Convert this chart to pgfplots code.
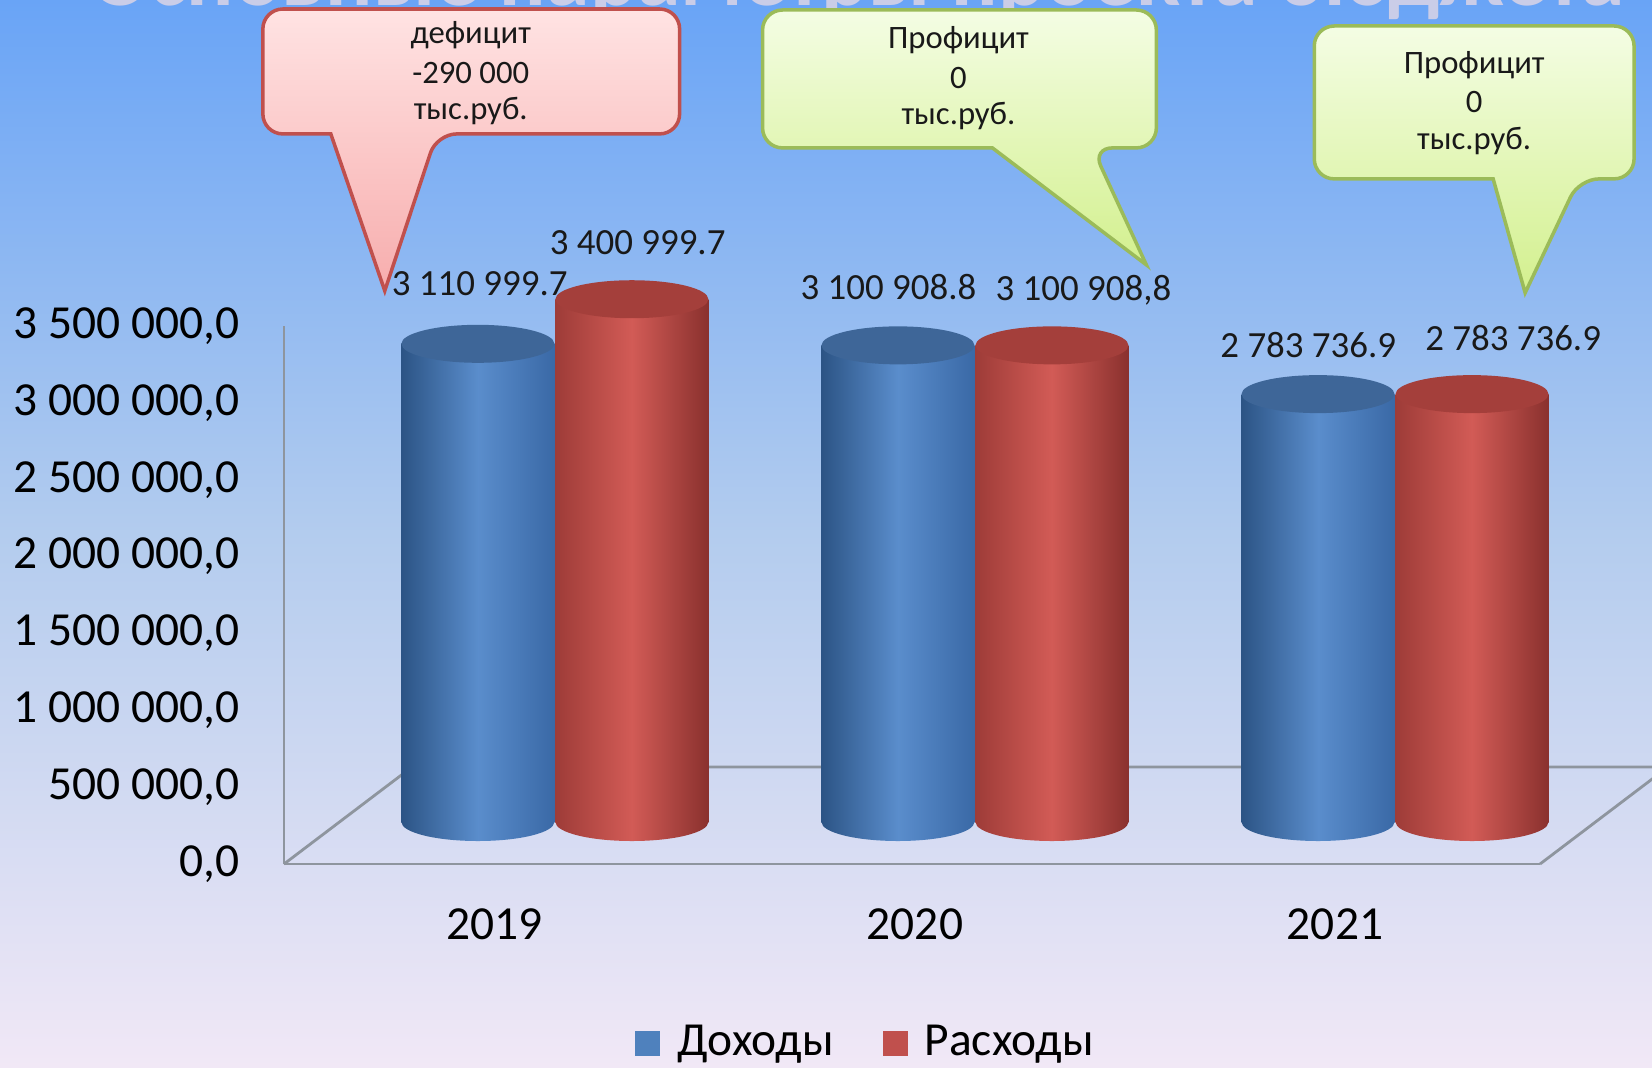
\documentclass[border=0pt]{standalone}
\usepackage{pgfplots}
\pgfplotsset{compat=1.18}
\usepackage{pgfplotstable}
\usepackage{fontspec}
\setmainfont{Carlito}
\usetikzlibrary{shapes.geometric}

\definecolor{bgtop}{HTML}{69A4F6}
\definecolor{bgmid}{HTML}{B3CCEE}
\definecolor{bgbot}{HTML}{F1E8F6}
\definecolor{bluel}{HTML}{2C5485}
\definecolor{bluem}{HTML}{5A8DCC}
\definecolor{bluer}{HTML}{3A69A6}
\definecolor{bluetop}{HTML}{3E6698}
\definecolor{redl}{HTML}{9E3C38}
\definecolor{redm}{HTML}{D25B56}
\definecolor{redr}{HTML}{8A312E}
\definecolor{redtop}{HTML}{A43F3B}
\definecolor{legblue}{HTML}{4F81BD}
\definecolor{legred}{HTML}{C0504D}
\definecolor{floorc}{HTML}{8E959E}
\definecolor{titlecol}{HTML}{CACDE8}
\definecolor{pinkb}{HTML}{C0504D}
\definecolor{pinkt}{HTML}{FFE3E3}
\definecolor{pinkbot}{HTML}{F7ADAD}
\definecolor{greenb}{HTML}{9BBB59}
\definecolor{greent}{HTML}{F4FDE4}
\definecolor{greenbot}{HTML}{D3F08E}

\pgfplotstableread{
x inc exp
0 3110999.7 3400999.7
1 3100908.8 3100908.8
2 2783736.9 2783736.9
}\budget

\pgfplotsset{
  bluecyl/.style={ybar, bar width=1.53cm, bar shift=-0.77cm, draw=none, left color=bluel, right color=bluer, middle color=bluem},
  redcyl/.style={ybar, bar width=1.53cm, bar shift=0.77cm, draw=none, left color=redl, right color=redr, middle color=redm},
  ell/.style={ybar, bar width=1.53cm, draw=none, fill=none, nodes near coords={}},
}

\begin{document}
\begin{tikzpicture}
\path[use as bounding box] (0,0) rectangle (16.52cm,10.67cm);
\shade[top color=bgtop, bottom color=bgbot, middle color=bgmid] (0,0) rectangle (16.52cm,10.67cm);

% title (cut off at the top)
\begin{scope}[shift={(0,10.67cm)}, x=0.01cm, y=-0.01cm]
\node[anchor=base, font=\fontsize{25}{30}\selectfont\bfseries, text=titlecol, inner sep=0] at (858,6) {Основные параметры проекта бюджета};
\end{scope}

% front axis: ticks, floor, legend
\begin{axis}[
  at={(2.84cm,2.03cm)}, anchor=south west,
  scale only axis, width=12.56cm, height=5.38cm,
  xmin=-0.502, xmax=2.488, ymin=0, ymax=3500000,
  axis lines=left, axis line style={-, draw=floorc, line width=0.8pt},
  major tick length=0pt,
  xtick={0,1,2}, xticklabels={2019,2020,2021},
  ytick={0,500000,1000000,1500000,2000000,2500000,3000000,3500000},
  scaled y ticks=false,
  /pgf/number format/.cd, fixed, fixed zerofill, precision=1, use comma, 1000 sep={\ }, assume math mode=true,
  /pgfplots/.cd,
  yticklabel style={anchor=east, inner sep=0pt, xshift=-0.44cm, font=\fontsize{13.5}{16}\selectfont},
  xticklabel style={anchor=north, inner sep=0pt, yshift=-0.44cm, font=\fontsize{13.5}{16}\selectfont},
  clip=false,
  legend columns=2,
  legend style={at={(0.465,-0.333)}, anchor=center, draw=none, fill=none,
    font=\fontsize{13.5}{16}\selectfont,
    /tikz/every odd column/.append style={column sep=0.1cm},
    /tikz/every even column/.append style={column sep=0.42cm}},
]
\draw[floorc, line width=0.8pt] (axis cs:-0.502,0) -- ++(1.28cm,0.97cm) -- ++(14cm,0);
\draw[floorc, line width=0.8pt] (axis cs:2.488,0) -- ++(1.28cm,0.97cm);
\addlegendimage{legend image code/.code={\fill[fill=legblue,draw=none] (0cm,-0.125cm) rectangle (0.25cm,0.125cm);}}
\addlegendentry{Доходы}
\addlegendimage{legend image code/.code={\fill[fill=legred,draw=none] (0cm,-0.125cm) rectangle (0.25cm,0.125cm);}}
\addlegendentry{Расходы}
\end{axis}

% bar axis (shifted back, like the 3D floor)
\begin{axis}[
  at={(3.44cm,2.45cm)}, anchor=south west,
  scale only axis, width=12.56cm, height=5.38cm,
  xmin=-0.502, xmax=2.488, ymin=0, ymax=3500000,
  hide axis, clip=false,
]
% Доходы
\addplot[ell, every node near coord/.style={anchor=center, xshift=-0.77cm, ellipse, inner sep=0pt, minimum width=1.53cm, minimum height=0.38cm, left color=bluel, right color=bluer, middle color=bluem}]
  coordinates {(0,0) (1,0) (2,0)};
\addplot[bluecyl] coordinates {(0,3110999.7)};
\addplot[bluecyl] coordinates {(1,3100908.8)};
\addplot[bluecyl] coordinates {(2,2783736.9)};
\addplot[ell, every node near coord/.style={anchor=center, xshift=-0.77cm, ellipse, inner sep=0pt, minimum width=1.53cm, minimum height=0.38cm, fill=bluetop}]
  table[x=x, y=inc] {\budget};
% Расходы
\addplot[ell, every node near coord/.style={anchor=center, xshift=0.77cm, ellipse, inner sep=0pt, minimum width=1.53cm, minimum height=0.38cm, left color=redl, right color=redr, middle color=redm}]
  coordinates {(0,0) (1,0) (2,0)};
\addplot[redcyl] coordinates {(0,3400999.7)};
\addplot[redcyl] coordinates {(1,3100908.8)};
\addplot[redcyl] coordinates {(2,2783736.9)};
\addplot[ell, every node near coord/.style={anchor=center, xshift=0.77cm, ellipse, inner sep=0pt, minimum width=1.53cm, minimum height=0.38cm, fill=redtop}]
  table[x=x, y=exp] {\budget};
\end{axis}

\begin{scope}[shift={(0,10.67cm)}, x=0.01cm, y=-0.01cm]
% value labels
\begin{scope}[every node/.style={font=\fontsize{10.5}{12}\selectfont, text=black!90, inner sep=0pt}]
\node at (480,284) {3 110 999.7};
\node at (638,243) {3 400 999.7};
\node at (889,287) {3 100 908.8};
\node at (1084,290) {3 100 908,8};
\node at (1309,345) {2 783 736.9};
\node at (1514,338) {2 783 736.9};
\end{scope}
% callouts
\filldraw[draw=pinkb, line width=1pt, top color=pinkt, bottom color=pinkbot, rounded corners=0.2cm]
  (263,134) -- (263,9) -- (680,9) -- (680,134) -- (437,134) [sharp corners] -- (385,291) -- (331,134) [rounded corners=0.2cm] -- cycle;
\filldraw[draw=greenb, line width=1pt, top color=greent, bottom color=greenbot, rounded corners=0.2cm]
  (763,148) -- (763,10) -- (1157,10) -- (1157,148) -- (1093,148) [sharp corners] -- (1147,265) -- (993,148) [rounded corners=0.2cm] -- cycle;
\filldraw[draw=greenb, line width=1pt, top color=greent, bottom color=greenbot, rounded corners=0.2cm]
  (1315,179) -- (1315,26) -- (1635,26) -- (1635,179) -- (1580,179) [sharp corners] -- (1526,293) -- (1494,179) [rounded corners=0.2cm] -- cycle;
\begin{scope}[every node/.style={font=\fontsize{9.3}{11}\selectfont, text=black!90, inner sep=0pt}]
\node at (471,35) {дефицит};
\node at (471,73) {-290 000};
\node at (471,111) {тыс.руб.};
\node at (959,40) {Профицит};
\node at (959,78) {0};
\node at (959,116) {тыс.руб.};
\node at (1475,65) {Профицит};
\node at (1475,102) {0};
\node at (1475,141) {тыс.руб.};
\end{scope}
\end{scope}
\end{tikzpicture}
\end{document}
